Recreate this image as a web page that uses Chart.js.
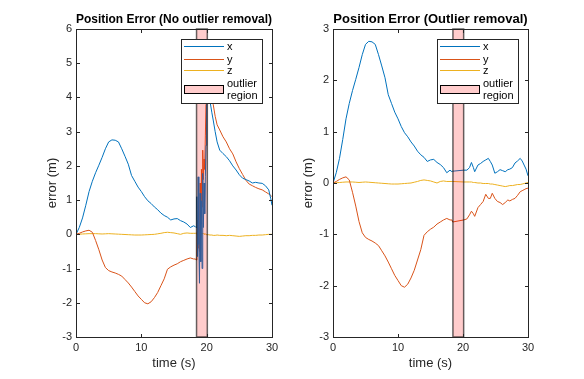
<!DOCTYPE html>
<html><head><meta charset="utf-8">
<script src="https://cdn.jsdelivr.net/npm/chart.js@4"></script>
<style>
html,body{margin:0;padding:0;background:#fff;overflow:hidden}
#wrap{position:relative;width:584px;height:379px;background:#fff}
canvas{position:absolute;top:0}
</style></head><body>
<div id="wrap"><canvas id="c1" width="292" height="379" style="left:0"></canvas><canvas id="c2" width="292" height="379" style="left:292px"></canvas></div>
<script>
// ---------- DATA ----------
const seriesNames = ['x', 'y', 'z'];
const regionLabel = ['outlier', 'region'];
const panelTitles = ['Position Error (No outlier removal)', 'Position Error (Outlier removal)'];
const xAxisTitle = 'time (s)';
const yAxisTitle = 'error (m)';
const xTickValues = [0, 10, 20, 30];
const yRangeLeft = [-3, 6];
const yRangeRight = [-3, 3];
const outlierRegion = [18.45, 20.1];

// shared part before the outlier region
const tPre = [0,0.5,1,1.5,2,2.5,3,3.5,4,4.5,5,5.5,6,6.5,7,7.5,8,8.5,9,9.5,10,10.5,11,11.5,12,12.5,13,13.5,14,14.5,15,15.5,16,16.5,17,17.5,18];
const xPre = [0,0.2,0.48,0.85,1.25,1.55,1.8,2.02,2.25,2.5,2.7,2.76,2.75,2.7,2.5,2.28,2.05,1.72,1.55,1.38,1.25,1.1,0.98,0.9,0.8,0.72,0.62,0.55,0.5,0.42,0.45,0.46,0.4,0.36,0.3,0.2,0.25];
const yPre = [0,0.03,0.07,0.1,0.12,0.06,-0.18,-0.45,-0.75,-0.97,-1.06,-1.1,-1.13,-1.17,-1.22,-1.32,-1.42,-1.54,-1.67,-1.8,-1.9,-2.0,-2.03,-1.97,-1.85,-1.7,-1.5,-1.3,-1.02,-0.95,-0.9,-0.86,-0.8,-0.76,-0.72,-0.69,-0.72];
const zPre = [0,0.005,0.01,0.015,0.02,0.02,0.02,0.015,0.01,0.015,0.02,0.015,0.01,0.005,0,-0.005,-0.01,-0.015,-0.02,-0.02,-0.02,-0.015,-0.01,-0.005,0,0.015,0.03,0.05,0.06,0.05,0.04,0.02,0,0.03,0.04,0.03,0.03];

// outlier region, raw
const tOutRaw = [18.3,18.4,18.5,18.6,18.7,18.8,18.9,19.0,19.1,19.2,19.3,19.4,19.5,19.6,19.7,19.8,19.9,20.0,20.1];
const xOutRaw = [0.22,0.2,1.1,-0.65,1.68,-0.3,-1.43,1.2,-0.8,0.98,-1.0,1.78,0.2,1.5,0.6,1.7,2.6,3.8,4.5];
const yOutRaw = [-0.72,-0.75,-0.65,0.42,-0.4,0.2,-0.5,1.5,0.3,1.9,0.8,2.46,1.6,2.2,1.9,2.9,3.8,5.0,5.3];
const zOutRaw = [0.03,0.02,0.05,-0.02,0.04,0,0.03,0.01,0.04,0,0.03,0.01,0.02,0,0.02,0.01,0,-0.01,-0.01];

// after the outlier region, raw
const tPostRaw = [20.3,20.5,20.8,21.0,21.3,21.6,22.0,22.5,23.0,23.5,24.0,24.5,25.0,25.5,26.0,26.5,27.0,27.5,28.0,28.5,29.0,29.5,29.8,30.0];
const xPostRaw = [4.2,3.9,3.55,3.34,3.0,2.7,2.46,2.36,2.27,2.15,2.0,1.88,1.74,1.64,1.6,1.56,1.5,1.52,1.5,1.49,1.42,1.3,1.05,0.85];
const yPostRaw = [4.8,4.5,4.1,3.8,3.45,3.2,3.05,2.85,2.7,2.5,2.35,2.12,1.92,1.75,1.58,1.47,1.42,1.37,1.33,1.3,1.24,1.18,1.14,1.1];
const zPostRaw = [-0.01,-0.02,-0.02,-0.03,-0.03,-0.02,-0.03,-0.03,-0.04,-0.03,-0.04,-0.05,-0.06,-0.05,-0.04,-0.04,-0.03,-0.03,-0.02,-0.02,-0.01,0,0,0];

// outlier region, cleaned
const tOutClean = [18.3,18.4,20.1];
const xOutClean = [0.22,0.23,0.25];
const yOutClean = [-0.72,-0.76,-0.72];
const zOutClean = [0.03,0.03,0.02];

// after the outlier region, cleaned
const tPostClean = [20.6,21.0,21.3,21.6,21.8,22.3,22.7,23.1,23.5,23.9,24.2,24.5,24.9,25.3,25.7,26.1,26.5,26.9,27.2,27.6,28.0,28.4,28.8,29.1,29.4,29.7,30.0];
const xPostClean = [0.25,0.3,0.4,0.3,0.22,0.35,0.38,0.42,0.45,0.48,0.42,0.35,0.19,0.22,0.26,0.24,0.22,0.26,0.27,0.3,0.39,0.43,0.48,0.43,0.35,0.27,0.14];
const yPostClean = [-0.7,-0.62,-0.55,-0.6,-0.65,-0.48,-0.42,-0.36,-0.22,-0.3,-0.3,-0.2,-0.3,-0.36,-0.38,-0.42,-0.38,-0.33,-0.35,-0.32,-0.3,-0.24,-0.17,-0.15,-0.13,-0.11,-0.1];
const zPostClean = [0.02,0.02,0.02,0.01,0.01,0,0,-0.01,-0.01,-0.01,-0.02,-0.02,-0.03,-0.04,-0.05,-0.06,-0.07,-0.06,-0.05,-0.05,-0.04,-0.03,-0.03,-0.02,-0.01,0,0.01];

// ---------- STYLE ----------
const FONT = "'Liberation Sans', Arial, Helvetica, sans-serif";
const AX = '#262626';
const COLORS = ['#0072BD', '#D95319', '#EDB120'];

function pts(t, v) { return t.map((ti, i) => ({ x: ti, y: v[i] })); }

const outlierPlugin = {
  id: 'outlierRegion',
  afterDatasetsDraw(chart) {
    const { ctx, chartArea: a, scales: { x } } = chart;
    const x0 = x.getPixelForValue(outlierRegion[0]);
    const x1 = x.getPixelForValue(outlierRegion[1]);
    ctx.save();
    ctx.fillStyle = 'rgba(255,0,0,0.2)';
    ctx.fillRect(x0, a.top, x1 - x0, a.bottom - a.top);
    ctx.strokeStyle = 'rgba(0,0,0,0.6)';
    ctx.lineWidth = 1.5;
    ctx.strokeRect(x0, a.top, x1 - x0, a.bottom - a.top);
    ctx.restore();
  }
};

const boxLegendPlugin = {
  id: 'boxLegend',
  afterDraw(chart) {
    const { ctx, chartArea: a, scales: { x, y } } = chart;
    ctx.save();
    // box
    ctx.strokeStyle = AX; ctx.lineWidth = 1;
    ctx.strokeRect(a.left + 0.5, a.top + 0.5, a.right - a.left, a.bottom - a.top);
    // inward ticks
    ctx.beginPath();
    x.ticks.forEach(tk => {
      const px = Math.round(x.getPixelForValue(tk.value)) + 0.5;
      ctx.moveTo(px, a.bottom); ctx.lineTo(px, a.bottom - 3);
      ctx.moveTo(px, a.top + 1); ctx.lineTo(px, a.top + 4);
    });
    y.ticks.forEach(tk => {
      const py = Math.round(y.getPixelForValue(tk.value)) + 0.5;
      ctx.moveTo(a.left + 1, py); ctx.lineTo(a.left + 4, py);
      ctx.moveTo(a.right, py); ctx.lineTo(a.right - 3, py);
    });
    ctx.stroke();
    // legend
    const W = 81, H = 64;
    const L = Math.round(a.right - 10 - W), T = Math.round(a.top + 10);
    ctx.fillStyle = '#fff';
    ctx.fillRect(L, T, W, H);
    ctx.strokeStyle = AX;
    ctx.strokeRect(L + 0.5, T + 0.5, W, H);
    const rows = [7.5, 20.5, 31.5];
    ctx.font = '11px ' + FONT;
    ctx.textBaseline = 'middle';
    ctx.textAlign = 'left';
    chart.data.datasets.forEach((ds, i) => {
      ctx.strokeStyle = ds.borderColor; ctx.lineWidth = 1;
      ctx.beginPath(); ctx.moveTo(L + 3, T + rows[i]); ctx.lineTo(L + 43, T + rows[i]); ctx.stroke();
      ctx.fillStyle = '#000';
      ctx.fillText(ds.label, L + 46, T + rows[i]);
    });
    ctx.fillStyle = 'rgb(255,204,204)';
    ctx.fillRect(L + 3, T + 46, 40, 9);
    ctx.strokeStyle = '#000'; ctx.lineWidth = 1;
    ctx.strokeRect(L + 3.5, T + 46.5, 39, 8);
    ctx.fillStyle = '#000';
    ctx.fillText(regionLabel[0], L + 46, T + 45);
    ctx.fillText(regionLabel[1], L + 46, T + 57);
    ctx.restore();
  }
};

function makeChart(id, title, series, yRange, yAxisWidth, rightPad, yTitlePad) {
  const datasets = series.map((s, i) => ({
    label: seriesNames[i],
    data: s,
    borderColor: COLORS[i],
    borderWidth: 1,
    pointRadius: 0,
    tension: 0,
    fill: false
  }));
  return new Chart(document.getElementById(id), {
    type: 'line',
    data: { datasets },
    plugins: [outlierPlugin, boxLegendPlugin],
    options: {
      responsive: false,
      animation: false,
      devicePixelRatio: 1,
      layout: { padding: { left: 0, right: rightPad, top: 0, bottom: 0 } },
      plugins: {
        legend: { display: false },
        tooltip: { enabled: false },
        title: {
          display: true, text: title, color: '#000', fullSize: false,
          font: { family: FONT, size: 13, weight: 'bold', lineHeight: 1.2 },
          padding: { top: 11.7, bottom: 1.7 }
        }
      },
      scales: {
        x: {
          type: 'linear', min: 0, max: 30,
          afterBuildTicks: s => { s.ticks = xTickValues.map(v => ({ value: v })); },
          ticks: { color: AX, font: { family: FONT, size: 11 }, padding: 4, maxRotation: 0 },
          grid: { display: false, drawTicks: false }, border: { display: false },
          title: { display: true, text: xAxisTitle, color: AX, font: { family: FONT, size: 13, lineHeight: 1.2 }, padding: { top: 0, bottom: 7.5 } },
          afterFit: s => { s.height = 42; }
        },
        y: {
          type: 'linear', min: yRange[0], max: yRange[1],
          ticks: { stepSize: 1, color: AX, font: { family: FONT, size: 11 }, padding: 4 },
          grid: { display: false, drawTicks: false }, border: { display: false },
          title: { display: true, text: yAxisTitle, color: AX, font: { family: FONT, size: 13, lineHeight: 1.2 }, padding: { top: yTitlePad, bottom: 0 } },
          afterFit: s => { s.width = yAxisWidth; }
        }
      }
    }
  });
}

const leftSeries = [
  pts([...tPre, ...tOutRaw, ...tPostRaw], [...xPre, ...xOutRaw, ...xPostRaw]),
  pts([...tPre, ...tOutRaw, ...tPostRaw], [...yPre, ...yOutRaw, ...yPostRaw]),
  pts([...tPre, ...tOutRaw, ...tPostRaw], [...zPre, ...zOutRaw, ...zPostRaw])
];
const rightSeries = [
  pts([...tPre, ...tOutClean, ...tPostClean], [...xPre, ...xOutClean, ...xPostClean]),
  pts([...tPre, ...tOutClean, ...tPostClean], [...yPre, ...yOutClean, ...yPostClean]),
  pts([...tPre, ...tOutClean, ...tPostClean], [...zPre, ...zOutClean, ...zPostClean])
];

makeChart('c1', panelTitles[0], leftSeries, yRangeLeft, 76, 20, 44.5);
makeChart('c2', panelTitles[1], rightSeries, yRangeRight, 41, 56, 8.2);
</script>
</body></html>
